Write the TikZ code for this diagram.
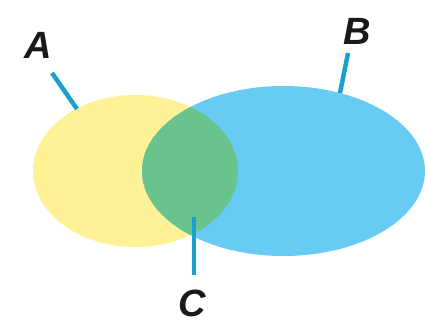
\documentclass[tikz,border=0pt]{standalone}
\usepackage{fontspec}
\setmainfont{Liberation Sans}
\usetikzlibrary{shapes.geometric}
\definecolor{setA}{HTML}{FEF196}
\definecolor{setB}{HTML}{68CBF4}
\definecolor{setAB}{HTML}{68C38C}
\definecolor{pointer}{HTML}{1B9ED0}
\tikzset{
  setlabel/.style={font=\fontsize{38}{38}\selectfont\bfseries\itshape, inner sep=0pt, text=black!90},
  leader/.style={draw=pointer, line width=4.5pt}
}
\begin{document}
\begin{tikzpicture}[x=1pt,y=-1pt]
  \useasboundingbox (0,0) rectangle (425,324);
  % the two sets
  \node[ellipse, fill=setA, minimum width=205pt, minimum height=152pt, inner sep=0pt] (A) at (135.5,171) {};
  \node[ellipse, fill=setB, minimum width=283pt, minimum height=170pt, inner sep=0pt] (B) at (283.5,171) {};
  % their intersection
  \begin{scope}
    \clip (135.5,171) ellipse (102.5pt and 76pt);
    \fill[setAB] (283.5,171) ellipse (141.5pt and 85pt);
  \end{scope}
  % labels
  \node[setlabel] (la) at (38,45) {A};
  \node[setlabel] (lb) at (357,31) {B};
  \node[setlabel] (lc) at (192,303) {C};
  % leader lines
  \coordinate (a1) at (52,73);
  \coordinate (a2) at (77,109);
  \coordinate (b1) at (348,53);
  \coordinate (b2) at (340,93);
  \coordinate (c1) at (194,217);
  \coordinate (c2) at (194,275);
  \draw[leader] (a1) -- (a2);
  \draw[leader] (b1) -- (b2);
  \draw[leader] (c1) -- (c2);
\end{tikzpicture}
\end{document}
